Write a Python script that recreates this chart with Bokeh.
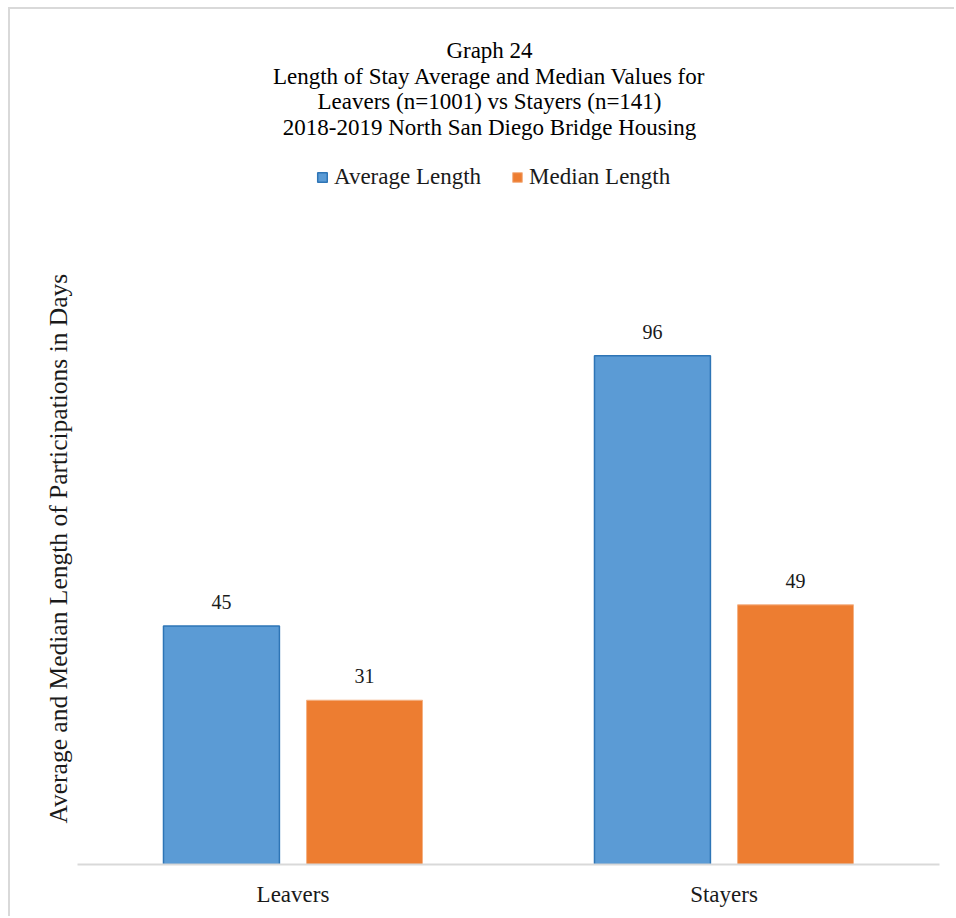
from bokeh.plotting import figure
from bokeh.models import FactorRange, ColumnDataSource, Legend, LegendItem, Range1d, LabelSet, Label, Title
from bokeh.transform import dodge
from bokeh.embed import file_html
from bokeh.resources import INLINE

categories = ["Leavers", "Stayers"]
average_length = [45, 96]
median_length = [31, 49]

title_lines = [
    "Graph 24",
    "Length of Stay Average and Median Values for",
    "Leavers (n=1001) vs Stayers (n=141)",
    "2018-2019 North San Diego Bridge Housing",
]
y_label = "Average and Median Length of Participations in Days"

FONT = "Liberation Serif"
TXT = "#1a1a1a"
BLUE = "#5b9bd5"
BLUE_EDGE = "#2e75b6"
ORANGE = "#ed7d31"
ORANGE_EDGE = "#f4b183"

src = ColumnDataSource(dict(
    cat=categories,
    avg=average_length,
    med=median_length,
    avg_txt=[str(v) for v in average_length],
    med_txt=[str(v) for v in median_length],
))

p = figure(
    x_range=FactorRange(*categories, range_padding=0),
    y_range=Range1d(0, 160.4),
    width=946, height=909,
    output_backend="svg", toolbar_location=None,
    min_border_left=67, min_border_right=17, min_border_bottom=54, min_border_top=5,
)
p.styles = {"margin-left": "8px", "margin-top": "7px",
            "border-left": "2px solid #d9d9d9", "border-top": "2px solid #d9d9d9"}

r1 = p.vbar(x=dodge("cat", -0.166, range=p.x_range), top="avg", width=0.269, source=src,
            fill_color=BLUE, line_color=BLUE_EDGE, line_width=1.5)
r2 = p.vbar(x=dodge("cat", 0.166, range=p.x_range), top="med", width=0.269, source=src,
            fill_color=ORANGE, line_color=ORANGE_EDGE, line_width=1)

for col, txt, off in (("avg", "avg_txt", -0.166), ("med", "med_txt", 0.166)):
    ls = LabelSet(x=dodge("cat", off, range=p.x_range), y=col, text=txt, source=src,
                  text_align="center", text_baseline="alphabetic", y_offset=17,
                  text_font=FONT, text_font_size="20px", text_color=TXT)
    p.add_layout(ls)

# chart title lines (screen units measured from the plot frame's bottom-left)
title_y = [814, 788.5, 763, 737.5]
for line, yy in zip(title_lines, title_y):
    p.add_layout(Label(x=412, y=yy, x_units="screen", y_units="screen", text=line,
                       text_align="center", text_baseline="alphabetic",
                       text_font=FONT, text_font_size="23px", text_color="#000000"))

legend = Legend(items=[LegendItem(label="Average Length", renderers=[r1]),
                       LegendItem(label="Median Length", renderers=[r2])],
                orientation="horizontal", location=(239, 674),
                label_text_font=FONT, label_text_font_size="23px", label_text_color=TXT,
                glyph_width=12, glyph_height=12, spacing=30, label_standoff=6,
                border_line_color=None, background_fill_alpha=0, margin=0, padding=0)
p.add_layout(legend, "center")

ytitle = Title(text=y_label, align="left", offset=41, standoff=10,
               text_font=FONT, text_font_size="25.5px", text_font_style="normal",
               text_color=TXT)
p.add_layout(ytitle, "left")

p.xgrid.visible = False
p.ygrid.visible = False
p.outline_line_color = None

p.xaxis.axis_line_color = "#d9d9d9"
p.xaxis.axis_line_width = 2
p.xaxis.major_tick_line_color = None
p.xaxis.minor_tick_line_color = None
p.xaxis.major_label_text_font = FONT
p.xaxis.major_label_text_font_size = "23px"
p.xaxis.major_label_text_color = TXT
p.xaxis.major_label_standoff = 11

p.yaxis.visible = False

open("out.html", "w").write(file_html(p, INLINE))
